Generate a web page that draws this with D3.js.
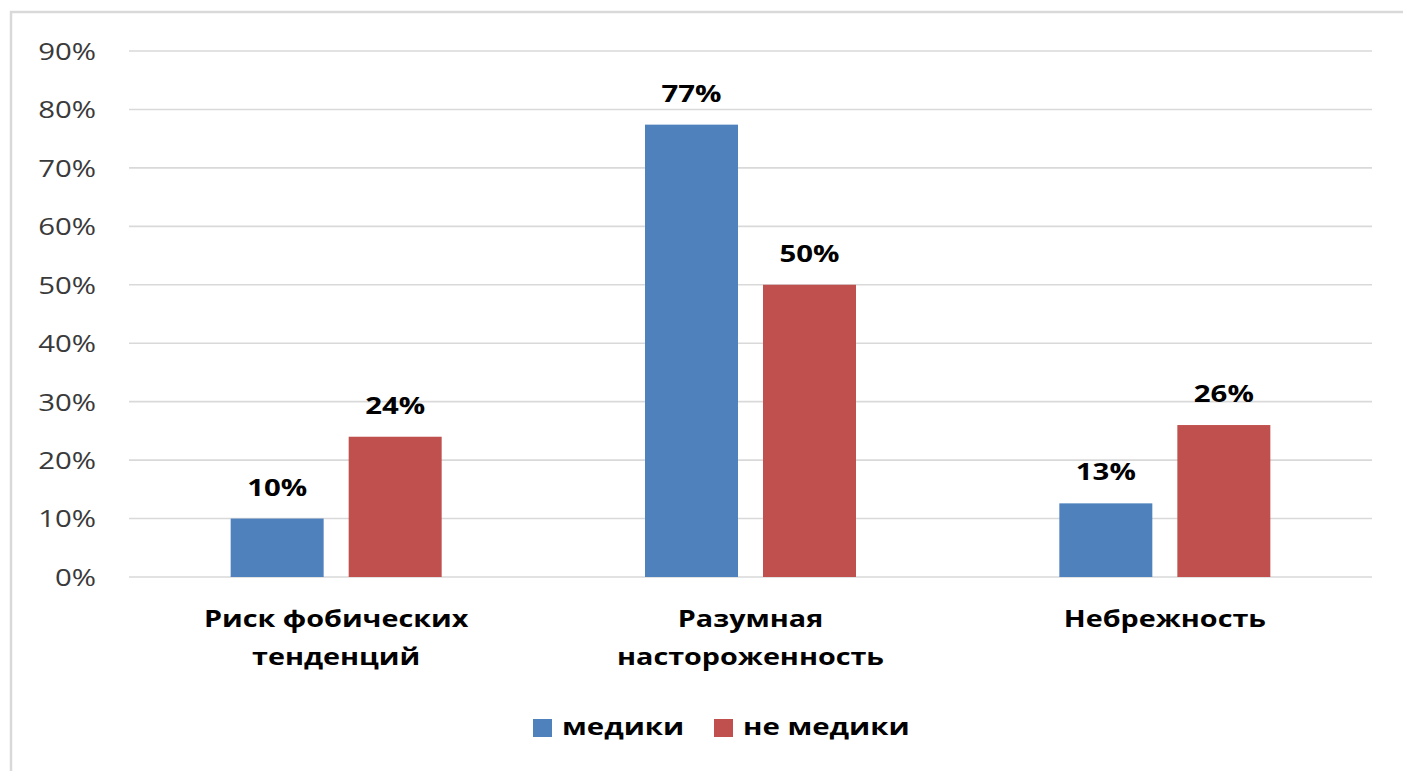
<!DOCTYPE html>
<html>
<head>
<meta charset="utf-8">
<script src="https://cdn.jsdelivr.net/npm/d3@7"></script>
<style>
  body { margin: 0; background: #fff; }
  text { font-family: "Open Sans", sans-serif; fill: #000; }
</style>
</head>
<body>
<script>
// data
var categories = [["Риск фобических", "тенденций"], ["Разумная", "настороженность"], ["Небрежность"]];
var series = ["медики", "не медики"];
var medics = [10, 77.4, 12.6];
var nonMedics = [24, 50, 26];
var yTicks = [0, 10, 20, 30, 40, 50, 60, 70, 80, 90];
var colors = ["#4F81BD", "#C0504D"];

var W = 1403, H = 771;
var margin = {left: 129, right: 31, top: 51, bottom: 194};
var width = W - margin.left - margin.right;
var height = H - margin.top - margin.bottom;
var stretch = 1.25; // the picture is widened horizontally

var svg = d3.select("body").append("svg")
    .attr("width", W)
    .attr("height", H);

svg.append("rect")//chart border
    .attr("x", 11).attr("y", 12)
    .attr("width", W + 20).attr("height", H + 20)
    .attr("fill", "none")
    .attr("stroke", "#d9d9d9")
    .attr("stroke-width", 2.5);

var g = svg.append("g")
    .attr("transform", "translate(" + margin.left + "," + margin.top + ")");

var y = d3.scaleLinear().domain([0, 90]).range([height, 0]);
var x0 = d3.scaleBand().domain(d3.range(categories.length)).range([0, width]);
var x1 = d3.scaleBand().domain(series)
    .range([x0.bandwidth() / 2 - 105.5, x0.bandwidth() / 2 + 105.5])
    .paddingInner(0.212);

function stretchedText(sel, px, py) {//text widened around its anchor
    return sel.append("text")
        .attr("transform", "translate(" + px + "," + py + ") scale(" + stretch + ",1)");
}

// gridlines
g.selectAll(".grid").data(yTicks).enter().append("line")
    .attr("x1", 0).attr("x2", width)
    .attr("y1", function (d) { return y(d); })
    .attr("y2", function (d) { return y(d); })
    .attr("stroke", "#d9d9d9")
    .attr("stroke-width", 1.6);

// y tick labels
yTicks.forEach(function (t) {
    stretchedText(g, -33, y(t))
        .attr("text-anchor", "end")
        .attr("dominant-baseline", "central")
        .style("font-size", "23.5px")
        .style("fill", "#3a3a3a")
        .text(t + "%");
});

// bars
var rows = [medics, nonMedics];
rows.forEach(function (vals, si) {
    vals.forEach(function (v, ci) {
        var bx = x0(ci) + x1(series[si]);
        g.append("rect")
            .attr("x", bx)
            .attr("y", y(v))
            .attr("width", x1.bandwidth())
            .attr("height", height - y(v))
            .attr("fill", colors[si]);
        stretchedText(g, bx + x1.bandwidth() / 2, y(v) - 23)
            .attr("text-anchor", "middle")
            .style("font-size", "23.5px")
            .style("font-weight", "bold")
            .text(Math.round(v) + "%");
    });
});

// category labels
categories.forEach(function (lines, ci) {
    lines.forEach(function (line, li) {
        stretchedText(g, x0(ci) + x0.bandwidth() / 2, height + 50 + li * 38)
            .attr("text-anchor", "middle")
            .style("font-size", "23px")
            .style("font-weight", "bold")
            .text(line);
    });
});

// legend
var legendX = [533, 714];
series.forEach(function (s, i) {
    svg.append("rect")
        .attr("x", legendX[i]).attr("y", 719)
        .attr("width", 19).attr("height", 18)
        .attr("fill", colors[i]);
    stretchedText(svg, legendX[i] + 29, 735)
        .style("font-size", "23.5px")
        .style("font-weight", "bold")
        .text(s);
});
</script>
</body>
</html>
